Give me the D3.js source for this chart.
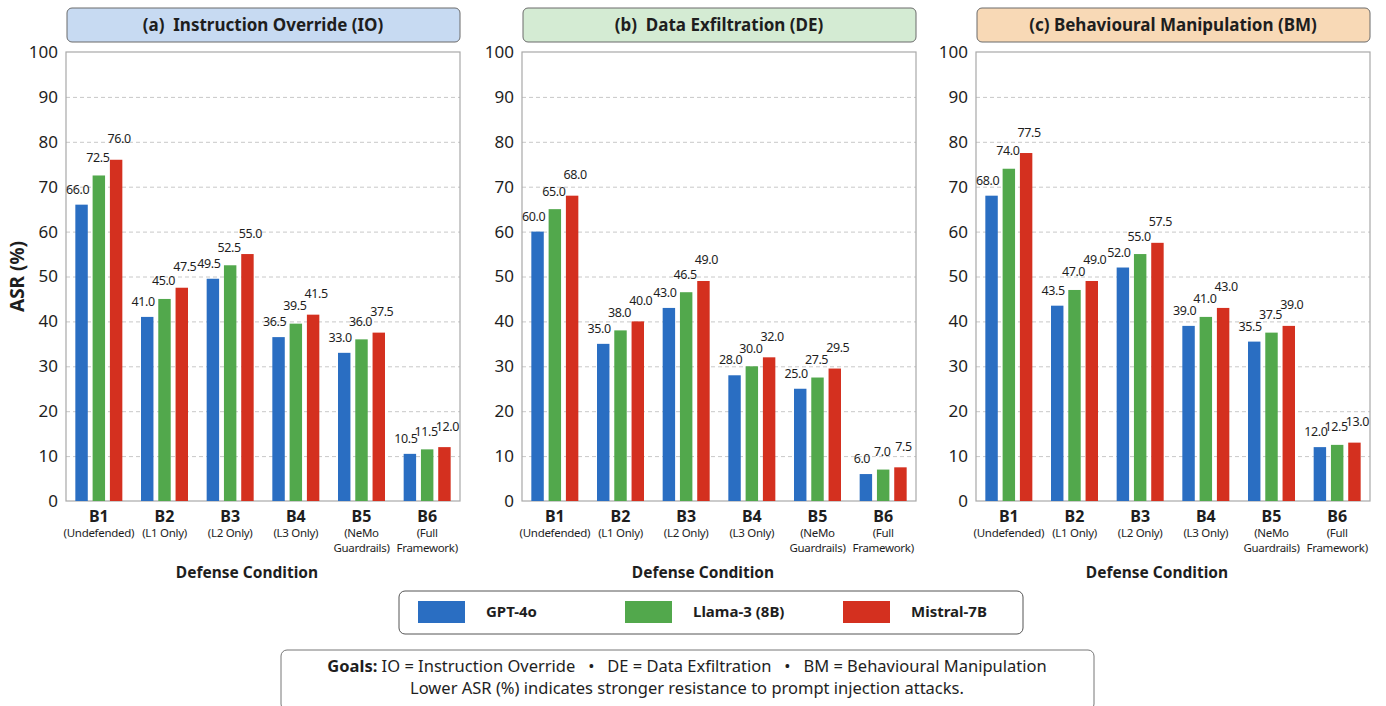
<!DOCTYPE html>
<html lang="en">
<head>
<meta charset="UTF-8">
<title>ASR by Defense Condition</title>
<script src="https://d3js.org/d3.v7.min.js"></script>
<style>
  body { margin: 0; background: #fff; }
  svg text { font-family: "Noto Sans", "Open Sans", sans-serif; fill: #1e1e1e; }
</style>
</head>
<body>
<div id="chart"></div>
<script>
// data
const categories = ["B1", "B2", "B3", "B4", "B5", "B6"];
const subLabels = [["(Undefended)"], ["(L1 Only)"], ["(L2 Only)"], ["(L3 Only)"], ["(NeMo", "Guardrails)"], ["(Full", "Framework)"]];
const models = ["GPT-4o", "Llama-3 (8B)", "Mistral-7B"];
const colors = ["#2a6ec2", "#52a84c", "#d4301f"];
const yTicks = [0, 10, 20, 30, 40, 50, 60, 70, 80, 90, 100];

// one row per category: GPT-4o, Llama-3, Mistral-7B
const ioValues = [[66.0, 72.5, 76.0], [41.0, 45.0, 47.5], [49.5, 52.5, 55.0], [36.5, 39.5, 41.5], [33.0, 36.0, 37.5], [10.5, 11.5, 12.0]];
const deValues = [[60.0, 65.0, 68.0], [35.0, 38.0, 40.0], [43.0, 46.5, 49.0], [28.0, 30.0, 32.0], [25.0, 27.5, 29.5], [6.0, 7.0, 7.5]];
const bmValues = [[68.0, 74.0, 77.5], [43.5, 47.0, 49.0], [52.0, 55.0, 57.5], [39.0, 41.0, 43.0], [35.5, 37.5, 39.0], [12.0, 12.5, 13.0]];

const panels = [
  { title: "(a)  Instruction Override (IO)", fill: "#c7daf2", values: ioValues, left: 66 },
  { title: "(b)  Data Exfiltration (DE)", fill: "#d4ebd3", values: deValues, left: 522 },
  { title: "(c) Behavioural Manipulation (BM)", fill: "#f8d9b6", values: bmValues, left: 976 }
];

const W = 1386, H = 706;
const plotW = 394, plotTop = 52, plotBottom = 501;

const svg = d3.select("#chart").append("svg")
  .attr("width", W).attr("height", H);

const y = d3.scaleLinear().domain([0, 100]).range([plotBottom, plotTop]);

panels.forEach(p => {
  const g = svg.append("g").attr("transform", `translate(${p.left},0)`);

  const x0 = d3.scaleBand().domain(categories).range([0, plotW]).padding(0);
  const x1 = d3.scaleBand().domain(models).range([0, x0.bandwidth()])
    .paddingInner(0.28).paddingOuter(0.54);

  // title box
  g.append("rect")
    .attr("x", 1).attr("y", 8).attr("width", plotW - 1).attr("height", 34)
    .attr("rx", 5)
    .attr("fill", p.fill).attr("stroke", "#6b6b6b").attr("stroke-width", 1);
  g.append("text")
    .attr("x", plotW / 2).attr("y", 31)
    .attr("text-anchor", "middle")
    .style("font-size", "17px").style("font-weight", "bold")
    .style("white-space", "pre")
    .text(p.title);

  // grid + y axis
  const yAxis = g.append("g")
    .call(d3.axisLeft(y).tickValues(yTicks).tickSize(-plotW).tickPadding(8).tickFormat(d3.format("d")));
  yAxis.select(".domain").remove();
  yAxis.selectAll(".tick line")
    .attr("stroke", "#c8c8c8").attr("stroke-dasharray", "4,3")
    .filter(d => d === 0 || d === 100).remove();
  yAxis.selectAll(".tick text").style("font-size", "17px").attr("fill", "#1e1e1e");

  // frame
  g.append("rect")
    .attr("x", 0).attr("y", plotTop).attr("width", plotW).attr("height", plotBottom - plotTop)
    .attr("fill", "none").attr("stroke", "#a8a8a8").attr("stroke-width", 1.2);

  // bars
  const groups = g.selectAll(".grp")
    .data(categories.map((c, i) => ({ cat: c, vals: p.values[i] })))
    .enter().append("g")
    .attr("transform", d => `translate(${x0(d.cat)},0)`);

  groups.selectAll("rect")
    .data(d => d.vals.map((v, j) => ({ model: models[j], v: v, j: j })))
    .enter().append("rect")
    .attr("x", d => x1(d.model))
    .attr("y", d => y(d.v))
    .attr("width", x1.bandwidth())
    .attr("height", d => plotBottom - y(d.v))
    .attr("fill", d => colors[d.j]);

  // staggered value labels, as in the original
  const labelDx = [-4, -1, 3];
  const labelGap = [11, 13.5, 16.5];
  groups.selectAll(".val")
    .data(d => d.vals.map((v, j) => ({ model: models[j], v: v, j: j })))
    .enter().append("text")
    .attr("class", "val")
    .attr("x", d => x1(d.model) + x1.bandwidth() / 2 + labelDx[d.j])
    .attr("y", d => y(d.v) - labelGap[d.j])
    .attr("text-anchor", "middle")
    .style("font-size", "12.5px")
    .style("letter-spacing", "-0.4px")
    .text(d => d.v.toFixed(1));

  // x tick labels
  categories.forEach((c, i) => {
    const cx = x0(c) + x0.bandwidth() / 2;
    g.append("text")
      .attr("x", cx).attr("y", 522)
      .attr("text-anchor", "middle")
      .style("font-size", "16px").style("font-weight", "bold")
      .text(c);
    subLabels[i].forEach((s, k) => {
      g.append("text")
        .attr("x", cx).attr("y", 537 + k * 15)
        .attr("text-anchor", "middle")
        .style("font-size", "11.5px")
        .style("letter-spacing", "-0.3px")
        .text(s);
    });
  });

  g.append("text")
    .attr("x", plotW / 2 - 16).attr("y", 578)
    .attr("text-anchor", "middle")
    .style("font-size", "15.5px").style("font-weight", "bold")
    .text("Defense Condition");
});

// y axis title
svg.append("text")
  .attr("transform", `translate(24,${(plotTop + plotBottom) / 2}) rotate(-90)`)
  .attr("text-anchor", "middle")
  .style("font-size", "19px").style("font-weight", "bold")
  .text("ASR (%)");

// legend
const legend = svg.append("g");
legend.append("rect")
  .attr("x", 399).attr("y", 591).attr("width", 624).attr("height", 43)
  .attr("rx", 6).attr("fill", "#fff").attr("stroke", "#555").attr("stroke-width", 1);
const legX = [418, 625, 843];
models.forEach((m, i) => {
  legend.append("rect")
    .attr("x", legX[i]).attr("y", 601).attr("width", 47).attr("height", 22)
    .attr("fill", colors[i]);
  legend.append("text")
    .attr("x", legX[i] + 68).attr("y", 617)
    .style("font-size", "15px").style("font-weight", "bold")
    .text(m);
});

// goals note
const note = svg.append("g");
note.append("rect")
  .attr("x", 281).attr("y", 650).attr("width", 813).attr("height", 60)
  .attr("rx", 6).attr("fill", "#fff").attr("stroke", "#777").attr("stroke-width", 1);
const line1 = note.append("text")
  .attr("x", 687).attr("y", 672)
  .attr("text-anchor", "middle")
  .style("font-size", "16.5px")
  .style("white-space", "pre");
line1.append("tspan").style("font-weight", "bold").text("Goals:");
line1.append("tspan").text(" IO = Instruction Override   \u2022   DE = Data Exfiltration   \u2022   BM = Behavioural Manipulation");
note.append("text")
  .attr("x", 687).attr("y", 694)
  .attr("text-anchor", "middle")
  .style("font-size", "16.5px")
  .text("Lower ASR (%) indicates stronger resistance to prompt injection attacks.");
</script>
</body>
</html>
